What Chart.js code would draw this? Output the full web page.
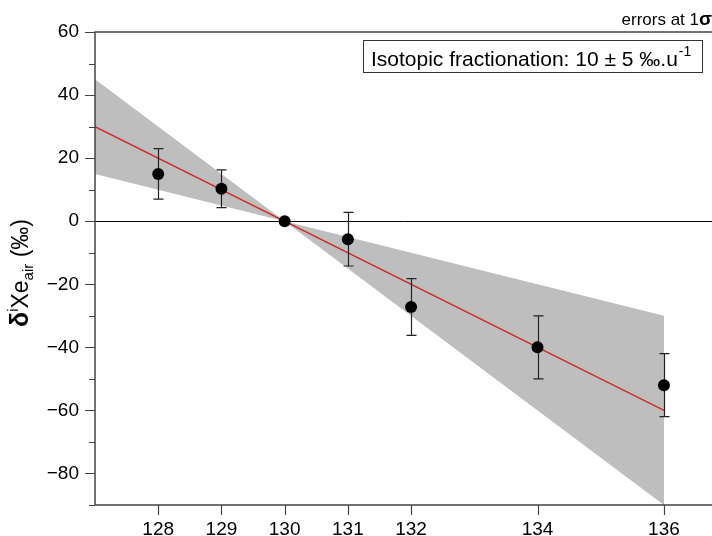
<!DOCTYPE html>
<html><head><meta charset="utf-8">
<script src="https://cdn.jsdelivr.net/npm/chart.js@4/dist/chart.umd.min.js"></script>
<style>html,body{margin:0;padding:0;background:#fff;} canvas{display:block;}</style>
</head><body>
<canvas id="c" width="712" height="536"></canvas>
<script>
// ---- data ----
const isotopeMasses = [128, 129, 130, 131, 132, 134, 136];
const deltaXe       = [15, 10.3, 0, -5.7, -27.2, -40, -52];
const deltaErr      = [8, 6, 0, 8.5, 9, 10, 10];
const fitMasses     = [127, 136];
const fitDelta      = [30, -60];
const bandMasses    = [127, 130, 136];
const bandUpper     = [45, 0, -30];
const bandLower     = [15, 0, -90];
const xTickValues   = [128, 129, 130, 131, 132, 134, 136];
const yRange        = [-90, 60];
const xRange        = [127, 136.76];
const yTickStep = 10, yLabelStep = 20;

const FONT = '"Liberation Sans", Arial, Helvetica, sans-serif';
const toXY = (xs, ys) => xs.map((v, i) => ({x: v, y: ys[i]}));

const decor = {
  id: 'decor',
  beforeDatasetsDraw(chart) {
    const {ctx, chartArea: a, scales: {y}} = chart;
    const y0 = Math.round(y.getPixelForValue(0)) + 0.5;
    ctx.save();
    ctx.strokeStyle = '#000'; ctx.lineWidth = 1;
    ctx.beginPath(); ctx.moveTo(a.left, y0); ctx.lineTo(a.right, y0); ctx.stroke();
    ctx.restore();
  },
  afterDatasetDraw(chart, args) {
    if (args.index !== 1) return;
    const {ctx, scales: {x, y}} = chart;
    ctx.save();
    ctx.strokeStyle = '#222'; ctx.lineWidth = 1.2;
    isotopeMasses.forEach((m, i) => {
      const e = deltaErr[i];
      if (!e) return;
      const px = Math.round(x.getPixelForValue(m)) + 0.5;
      const yt = y.getPixelForValue(deltaXe[i] + e);
      const yb = y.getPixelForValue(deltaXe[i] - e);
      ctx.beginPath();
      ctx.moveTo(px, yt); ctx.lineTo(px, yb);
      ctx.moveTo(px - 5, yt); ctx.lineTo(px + 5, yt);
      ctx.moveTo(px - 5, yb); ctx.lineTo(px + 5, yb);
      ctx.stroke();
    });
    ctx.restore();
  },
  afterDraw(chart) {
    const {ctx, chartArea: a, scales: {x, y}} = chart;
    ctx.save();
    // frame
    ctx.strokeStyle = '#444'; ctx.lineWidth = 1.5;
    ctx.beginPath();
    ctx.moveTo(a.right, a.top); ctx.lineTo(a.left, a.top); ctx.lineTo(a.left, a.bottom); ctx.lineTo(a.right, a.bottom);
    ctx.stroke();
    // y ticks
    ctx.lineWidth = 1.2;
    ctx.beginPath();
    for (let v = yRange[0]; v <= yRange[1]; v += yTickStep) {
      const py = Math.round(y.getPixelForValue(v)) + 0.5;
      const len = (v % yLabelStep === 0) ? 10 : 6;
      ctx.moveTo(a.left - len, py); ctx.lineTo(a.left, py);
    }
    // x ticks
    xTickValues.forEach(v => {
      const px = Math.round(x.getPixelForValue(v)) + 0.5;
      ctx.moveTo(px, a.bottom); ctx.lineTo(px, a.bottom + 10);
    });
    ctx.stroke();

    // y axis title
    const parts = [
      {t: 'δ', f: 'bold 25px ' + FONT, dy: 0},
      {t: 'i', f: '15px ' + FONT, dy: -10},
      {t: 'Xe', f: '23px ' + FONT, dy: 0},
      {t: 'air', f: '15px ' + FONT, dy: 5},
      {t: ' (‰)', f: '23px ' + FONT, dy: 0}
    ];
    let total = 0;
    parts.forEach(p => { ctx.font = p.f; p.w = ctx.measureText(p.t).width; total += p.w; });
    ctx.translate(28, 273);
    ctx.rotate(-Math.PI / 2);
    ctx.fillStyle = '#000'; ctx.textBaseline = 'alphabetic'; ctx.textAlign = 'left';
    let cx = -total / 2;
    parts.forEach(p => { ctx.font = p.f; ctx.fillText(p.t, cx, p.dy); cx += p.w; });
    ctx.setTransform(1, 0, 0, 1, 0, 0);

    // annotation box
    ctx.fillStyle = '#fff';
    ctx.fillRect(363, 40, 339, 32);
    ctx.strokeStyle = '#333'; ctx.lineWidth = 1;
    ctx.strokeRect(363.5, 40.5, 339, 32);
    ctx.fillStyle = '#000';
    ctx.font = '21px ' + FONT;
    const main = 'Isotopic fractionation: 10 ± 5 ‰.u';
    ctx.fillText(main, 371, 66);
    const mw = ctx.measureText(main).width;
    ctx.font = '14px ' + FONT;
    ctx.fillText('-1', 371 + mw + 1, 56);

    // errors note
    ctx.font = 'bold 19px ' + FONT;
    const sw = ctx.measureText('σ').width;
    ctx.textAlign = 'right';
    ctx.fillText('σ', 712, 25);
    ctx.font = '17px ' + FONT;
    ctx.fillText('errors at 1', 712 - sw, 25);
    ctx.restore();
  }
};

new Chart(document.getElementById('c'), {
  type: 'line',
  data: {
    datasets: [
      { label: 'data', data: toXY(isotopeMasses, deltaXe), showLine: false,
        pointRadius: 6, pointBackgroundColor: '#000', pointBorderWidth: 0, pointHoverRadius: 6 },
      { label: 'fit', data: toXY(fitMasses, fitDelta), borderColor: '#cc2a2a', borderWidth: 1.4,
        pointRadius: 0, fill: false, tension: 0 },
      { label: 'bandUpper', data: toXY(bandMasses, bandUpper), borderWidth: 0, borderColor: 'rgba(0,0,0,0)',
        pointRadius: 0, fill: false, tension: 0 },
      { label: 'bandLower', data: toXY(bandMasses, bandLower), borderWidth: 0, borderColor: 'rgba(0,0,0,0)',
        pointRadius: 0, fill: '-1', backgroundColor: 'rgb(190,190,190)', tension: 0 }
    ]
  },
  options: {
    responsive: false,
    animation: false,
    devicePixelRatio: 1,
    layout: { autoPadding: false, padding: { top: 32, right: 0, left: 0, bottom: 0 } },
    plugins: { legend: { display: false }, tooltip: { enabled: false } },
    scales: {
      x: {
        type: 'linear', min: xRange[0], max: xRange[1],
        afterBuildTicks: s => { s.ticks = xTickValues.map(v => ({value: v})); },
        afterFit: s => { s.height = 31; s.paddingLeft = 0; s.paddingRight = 0; },
        grid: { display: false, drawTicks: false },
        border: { display: false },
        ticks: { padding: 13, color: '#000', font: { family: FONT, size: 19 }, maxRotation: 0,
                 callback: v => String(v) }
      },
      y: {
        type: 'linear', min: yRange[0], max: yRange[1],
        afterFit: s => { s.width = 95; s.paddingTop = 0; s.paddingBottom = 0; },
        grid: { display: false, drawTicks: false },
        border: { display: false },
        ticks: { stepSize: yTickStep, padding: 16, color: '#000', font: { family: FONT, size: 19 },
                 callback: v => (v % yLabelStep === 0 ? (v < 0 ? '\u2212' + Math.abs(v) : String(v)) : '') }
      }
    }
  },
  plugins: [decor]
});
</script>
</body></html>
